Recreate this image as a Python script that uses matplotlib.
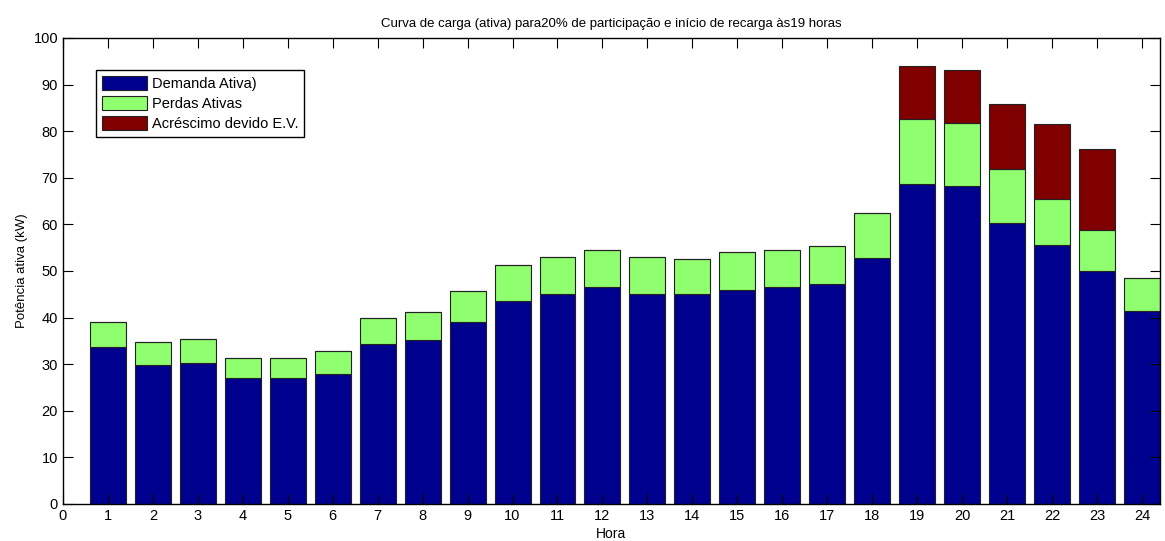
import matplotlib.pyplot as plt
import numpy as np

plt.rcParams['font.family'] = ['Liberation Sans', 'DejaVu Sans']

horas = np.arange(1, 25)
# total values, per layer
demanda = [33.7, 29.8, 30.3, 27.0, 27.0, 28.0, 34.3, 35.2, 39.0, 43.6, 45.1, 46.6,
           45.1, 45.1, 45.9, 46.6, 47.2, 52.8, 68.7, 68.2, 60.4, 55.5, 50.0, 41.4]
com_perdas = [39.1, 34.8, 35.4, 31.3, 31.3, 32.8, 39.9, 41.2, 45.7, 51.3, 53.0, 54.5,
              53.0, 52.6, 54.1, 54.5, 55.4, 62.4, 82.6, 81.8, 71.9, 65.5, 58.8, 48.5]
com_ev = [39.1, 34.8, 35.4, 31.3, 31.3, 32.8, 39.9, 41.2, 45.7, 51.3, 53.0, 54.5,
          53.0, 52.6, 54.1, 54.5, 55.4, 62.4, 94.0, 93.1, 85.9, 81.5, 76.2, 48.5]

demanda = np.array(demanda)
perdas = np.array(com_perdas) - demanda
acrescimo = np.array(com_ev) - np.array(com_perdas)

fig = plt.figure(figsize=(11.65, 5.41), dpi=100)
ax = fig.add_axes([0.054, 0.0684, 0.9417, 0.8614])

kw = dict(width=0.8, edgecolor='#222222', linewidth=0.8)
ax.bar(horas, demanda, color='#00008F', label='Demanda Ativa)', **kw)
ax.bar(horas, perdas, bottom=demanda, color='#8FFF6F', label='Perdas Ativas', **kw)
ax.bar(horas, acrescimo, bottom=demanda + perdas, color='#800000',
       label='Acréscimo devido E.V.', **kw)

ax.set_xlim(0, 24.4)
ax.set_ylim(0, 100)
ax.set_xticks(np.arange(0, 25))
ax.set_yticks(np.arange(0, 101, 10))
ax.tick_params(direction='in', top=True, right=True, labelsize=10.5, length=7)
for s in ax.spines.values():
    s.set_linewidth(1.0)

ax.set_xlabel('Hora', fontsize=10, labelpad=3)
ax.set_ylabel('Potência ativa (kW)', fontsize=9.5, labelpad=4)
ax.set_title('Curva de carga (ativa) para20% de participação e início de recarga às19 horas',
             fontsize=9.5, pad=8)

leg = ax.legend(loc='upper left', bbox_to_anchor=(0.030, 0.931), fancybox=False,
                edgecolor='black', framealpha=1, fontsize=10.5, borderaxespad=0,
                handlelength=3.1, handleheight=1.1, labelspacing=0.35,
                borderpad=0.4, handletextpad=0.35)
leg.get_frame().set_linewidth(1.0)

fig.savefig('out.png', dpi=100)
